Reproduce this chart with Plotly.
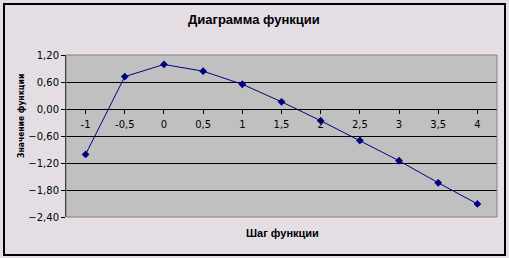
import plotly.graph_objects as go

categories = ["-1", "-0,5", "0", "0,5", "1", "1,5", "2", "2,5", "3", "3,5", "4"]
values = [-1.01, 0.72, 0.99, 0.84, 0.55, 0.16, -0.26, -0.70, -1.15, -1.64, -2.11]
y_ticks = [1.2, 0.6, 0.0, -0.6, -1.2, -1.8, -2.4]

W, H = 509, 258
ml, mr, mt, mb = 66, 12, 55, 41
pw, ph = W - ml - mr, H - mt - mb

def px(x):
    return (x - ml) / pw

def py(y):
    return (H - mb - y) / ph

fig = go.Figure()
fig.add_trace(go.Scatter(
    x=list(range(len(categories))), y=values, mode="lines+markers",
    line=dict(color="#000080", width=1),
    marker=dict(symbol="diamond", size=6, color="#000080"),
    showlegend=False, hoverinfo="skip",
))

fig.update_layout(
    width=W, height=H, margin=dict(l=ml, r=mr, t=mt, b=mb),
    paper_bgcolor="#e4dee4", plot_bgcolor="#c0c0c0",
    separators=", ",
    font=dict(family="DejaVu Sans", size=10, color="black"),
    xaxis=dict(
        range=[-0.5, len(categories) - 0.5],
        tickmode="array", tickvals=list(range(len(categories))), ticktext=categories,
        anchor="free", position=(0 - y_ticks[-1]) / (y_ticks[0] - y_ticks[-1]),
        showline=True, linecolor="black", linewidth=1,
        ticks="outside", ticklen=4, tickcolor="black", showgrid=False, zeroline=False,
        tickson="boundaries", ticklabelstandoff=2,
    ),
    yaxis=dict(
        range=[y_ticks[-1], y_ticks[0]], tickvals=y_ticks, tickformat=".2f",
        showline=True, linecolor="black", linewidth=1, ticks="outside", ticklen=4, tickcolor="black",
        showgrid=True, gridcolor="black", gridwidth=1, zeroline=False,
    ),
    annotations=[
        dict(text="<b>Диаграмма функции</b>", xref="paper", yref="paper", x=px(254), y=py(20),
             xanchor="center", yanchor="middle", showarrow=False,
             font=dict(family="Liberation Sans", size=13, color="black")),
        dict(text="<b>Шаг функции</b>", xref="paper", yref="paper", x=px(282), y=py(233),
             xanchor="center", yanchor="middle", showarrow=False,
             font=dict(family="Liberation Sans", size=11, color="black")),
        dict(text="<b>Значение функции</b>", xref="paper", yref="paper", x=px(21), y=py(116),
             xanchor="center", yanchor="middle", showarrow=False, textangle=-90,
             font=dict(family="DejaVu Sans Condensed, Liberation Sans", size=8.5, color="black")),
    ],
    shapes=[
        dict(type="rect", xref="paper", yref="paper", x0=0, x1=1, y0=0, y1=1,
             line=dict(color="#808080", width=1), layer="above"),
        dict(type="rect", xref="paper", yref="paper",
             x0=px(4), x1=px(505), y0=py(255), y1=py(4),
             line=dict(color="black", width=2)),
    ],
)
fig.write_html("out.html")
